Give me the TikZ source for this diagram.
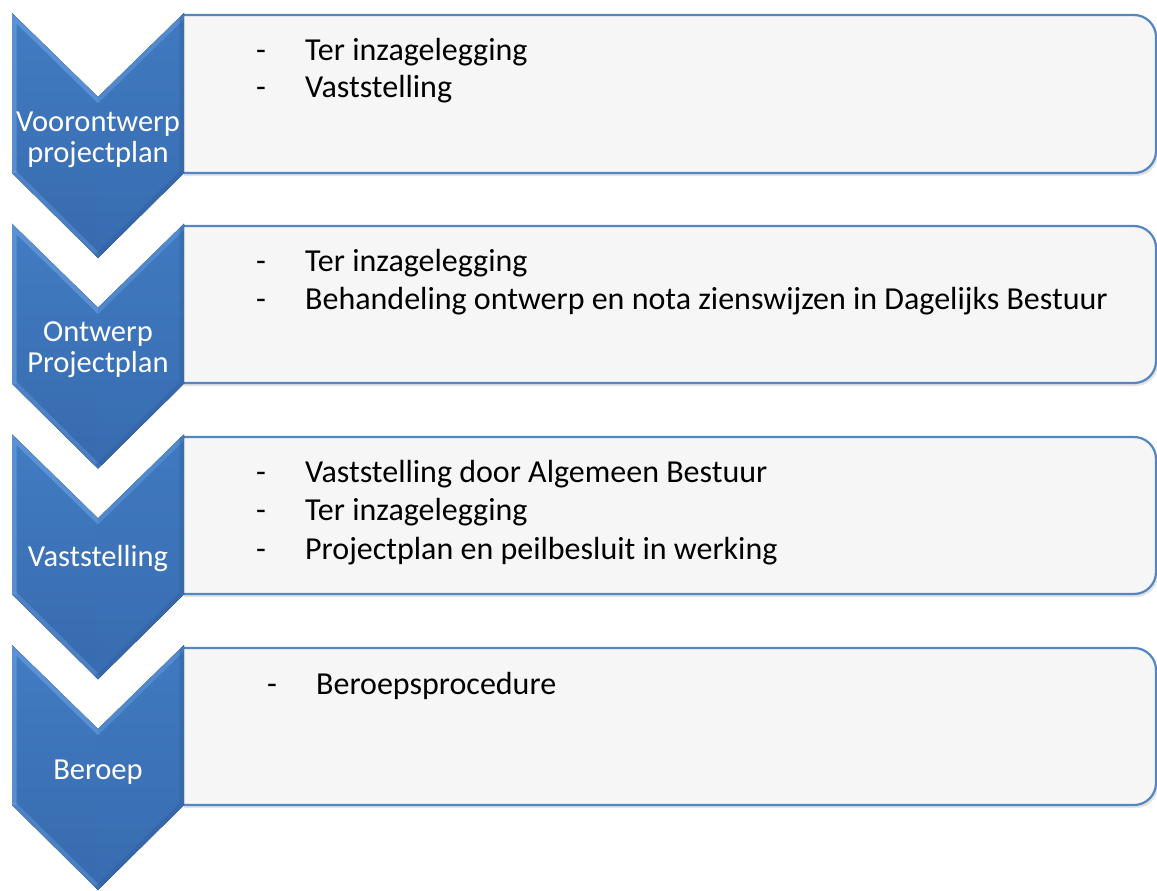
\documentclass[tikz,border=0pt]{standalone}
\usepackage{fontspec}
\setmainfont{Carlito}
\usetikzlibrary{shadows}
\definecolor{chevblue}{RGB}{60,115,185}
\definecolor{chevtop}{RGB}{66,124,194}
\definecolor{chevbot}{RGB}{55,106,174}
\definecolor{chevlight}{RGB}{110,165,230}
\definecolor{chevdark}{RGB}{40,82,142}
\definecolor{boxline}{RGB}{84,134,196}
\definecolor{boxfill}{RGB}{246,246,246}
\tikzset{
  stagebox/.style={fill=boxfill, draw=boxline, line width=2.2pt, rounded corners=22pt,
    drop shadow={opacity=0.22, shadow xshift=2pt, shadow yshift=-3pt}},
  chevlabel/.style={text=white, font=\fontsize{30.5}{31}\selectfont, align=center, inner sep=0pt},
  itemtext/.style={text=black, font=\fontsize{32}{37}\selectfont, anchor=base west, inner sep=0pt},
}
\newcommand{\dashitem}[1]{\makebox[49pt][l]{-}#1}
\newcommand{\chevron}[1]{%
  \fill[top color=chevtop, bottom color=chevbot]
    (12,#1) -- (98,#1+84) -- (184,#1) -- (184,#1+160) -- (98,#1+245) -- (12,#1+160) -- cycle;
  \begin{scope}
    \clip (12,#1) -- (98,#1+84) -- (184,#1) -- (184,#1+160) -- (98,#1+245) -- (12,#1+160) -- cycle;
    \draw[chevlight, line width=9pt, opacity=0.55]
      (12,#1+160) -- (12,#1) -- (98,#1+84) -- (184,#1);
    \draw[chevlight, line width=9pt, opacity=0.35]
      (12,#1+160) -- (98,#1+245);
    \draw[chevdark, line width=9pt, opacity=0.35]
      (184,#1) -- (184,#1+160) -- (98,#1+245);
    \fill[chevblue, opacity=0.25] (98,#1+84) -- (184,#1) -- (184,#1+160) -- (98,#1+245) -- cycle;
  \end{scope}
}
\begin{document}
\begin{tikzpicture}[x=1pt,y=-1pt]
\useasboundingbox (0,0) rectangle (1157,891);
\fill[white] (0,0) rectangle (1157,891);

% boxes (left part clipped away at the chevron edge)
\begin{scope}
\clip (184,0) rectangle (1157,891);
\path[stagebox] (140,15) rectangle (1156,173);
\path[stagebox] (140,226) rectangle (1156,383);
\path[stagebox] (140,437) rectangle (1156,594);
\path[stagebox] (140,648) rectangle (1156,805);
\end{scope}

% chevrons
\chevron{13}
\chevron{223.7}
\chevron{434.3}
\chevron{645}

% chevron labels
\node[chevlabel] (c1) at (98,139.5) {Voorontwerp\\projectplan};
\node[chevlabel] (c2) at (98,349.5) {Ontwerp\\Projectplan};
\node[chevlabel] (c3) at (98,559) {Vaststelling};
\node[chevlabel] (c4) at (98,772) {Beroep};

% box texts
\node[itemtext] (t1a) at (256,61) {\dashitem{Ter inzagelegging}};
\node[itemtext] (t1b) at (256,98) {\dashitem{Vaststelling}};
\node[itemtext] (t2a) at (256,271) {\dashitem{Ter inzagelegging}};
\node[itemtext] (t2b) at (256,309) {\dashitem{Behandeling ontwerp en nota zienswijzen in Dagelijks Bestuur}};
\node[itemtext] (t3a) at (256,482) {\dashitem{Vaststelling door Algemeen Bestuur}};
\node[itemtext] (t3b) at (256,520.5) {\dashitem{Ter inzagelegging}};
\node[itemtext] (t3c) at (256,559) {\dashitem{Projectplan en peilbesluit in werking}};
\node[itemtext] (t4a) at (267,694) {\dashitem{Beroepsprocedure}};
\end{tikzpicture}
\end{document}
